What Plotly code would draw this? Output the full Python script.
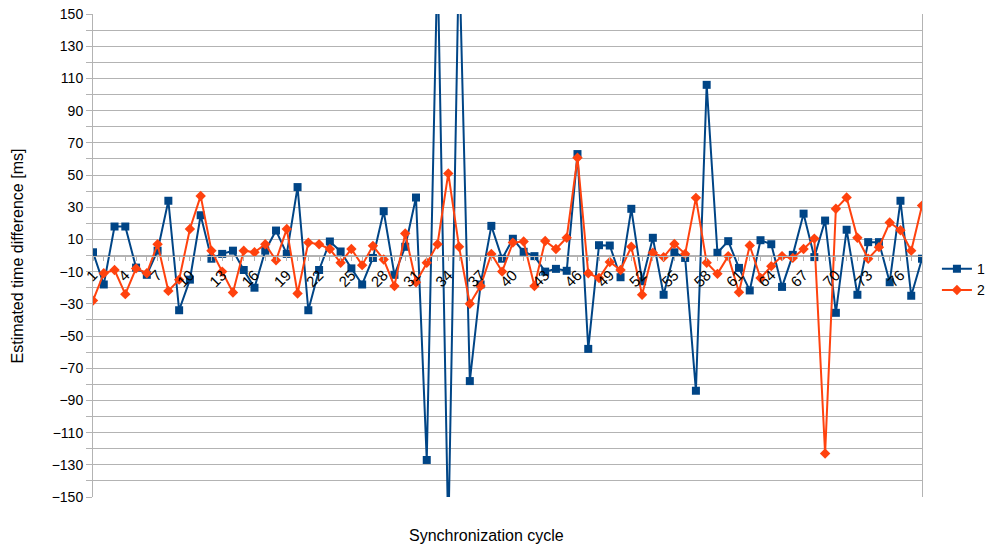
import plotly.graph_objects as go

cycles = list(range(1, 79))

series1 = [2, -18, 18, 18, -7.5, -12, 3, 34, -34, -15,
           25, -2, 1, 3, -9, -20, 3, 15.5, 1, 42.5,
           -34, -9, 8.7, 2.5, -8, -18, -1.5, 27.5, -12, 5.4,
           36, -127, 185, -175, 190, -78, -18, 18.4, -2, 10.4,
           2.3, -0.4, -10, -8.3, -9.5, 63, -58, 6.4, 6.2, -13.5,
           29, -16, 11, -24.4, 2, -1.5, -84, 106, 1.7, 8.9,
           -7.7, -21.7, 9.5, 7, -19.5, 0.4, 26, -1, 21.7, -35.6,
           16, -24.4, 8.3, 8.3, -16.6, 34, -25, -2]

series2 = [-28, -11, -9, -24, -8, -11, 7, -22, -15, 16.5,
           37, 3, -10, -23, 3, 2, 7, -3, 16.5, -23.6,
           8, 7, 4, -4.5, 4, -6, 6, -2.5, -19, 13.7,
           -16.6, -4.5, 7, 51, 5.4, -30, -19, 1, -10, 8,
           8.7, -19, 9, 4, 11, 60.7, -11, -14, -4, -9,
           5.4, -24.4, 1.7, -1, 7.2, 1, 35.8, -4.5, -11.4, -0.4,
           -22.8, 6.2, -14, -6.6, -0.4, -1.5, 4, 10.5, -123, 29,
           36, 11, -2, 5.2, 20.5, 15.7, 3, 31]

tick_text = [str(c) if (c - 1) % 3 == 0 else "" for c in cycles]

FONT = "Liberation Sans"

fig = go.Figure()
fig.add_trace(go.Scatter(
    x=cycles, y=series1, name="1", mode="lines+markers",
    line=dict(color="#004586", width=2),
    marker=dict(symbol="square", size=8, color="#004586"),
))
fig.add_trace(go.Scatter(
    x=cycles, y=series2, name="2", mode="lines+markers",
    line=dict(color="#ff420e", width=2),
    marker=dict(symbol="diamond", size=8, color="#ff420e"),
))

fig.update_layout(
    width=988, height=548,
    margin=dict(l=93, r=66, t=14, b=51, autoexpand=False),
    paper_bgcolor="white", plot_bgcolor="white",
    font=dict(family=FONT, size=13, color="#000000"),
    showlegend=True,
    legend=dict(x=1.018, y=0.45, xanchor="left", yanchor="middle",
                font=dict(family=FONT, size=14), bgcolor="rgba(0,0,0,0)",
                tracegroupgap=0, itemwidth=30),
    xaxis=dict(
        range=[1, 78], anchor="free", position=0.5, automargin=False,
        tickmode="array", tickvals=cycles, ticktext=tick_text,
        tickangle=-45, tickfont=dict(family=FONT, size=15),
        ticks="outside", ticklen=4, tickcolor="#b3b3b3",
        showline=True, linecolor="#b3b3b3", linewidth=1,
        showgrid=False, zeroline=False,
    ),
    yaxis=dict(
        range=[-150, 150], tick0=-150, dtick=20, automargin=False,
        tickfont=dict(family=FONT, size=14), ticklabeloverflow="allow",
        ticks="outside", ticklen=6, tickcolor="#b3b3b3",
        showgrid=True, gridcolor="#b3b3b3", gridwidth=1,
        minor=dict(dtick=10, tick0=-150, showgrid=True, gridcolor="#b3b3b3",
                   ticks="outside", ticklen=6, tickcolor="#b3b3b3"),
        showline=True, linecolor="#b3b3b3", linewidth=1, mirror=True,
        zeroline=False,
    ),
    annotations=[
        dict(text="Synchronization cycle", x=0.475, y=-0.079,
             xref="paper", yref="paper", xanchor="center", yanchor="middle",
             showarrow=False, font=dict(family=FONT, size=16)),
        dict(text="Estimated time difference [ms]", x=-0.0905, y=0.5,
             xref="paper", yref="paper", xanchor="center", yanchor="middle",
             textangle=-90, showarrow=False, font=dict(family=FONT, size=16)),
    ],
)

fig.write_html(
    "out.html",
    config={"displayModeBar": False},
    post_script="document.body.style.margin='0';document.body.style.overflow='hidden';",
)
